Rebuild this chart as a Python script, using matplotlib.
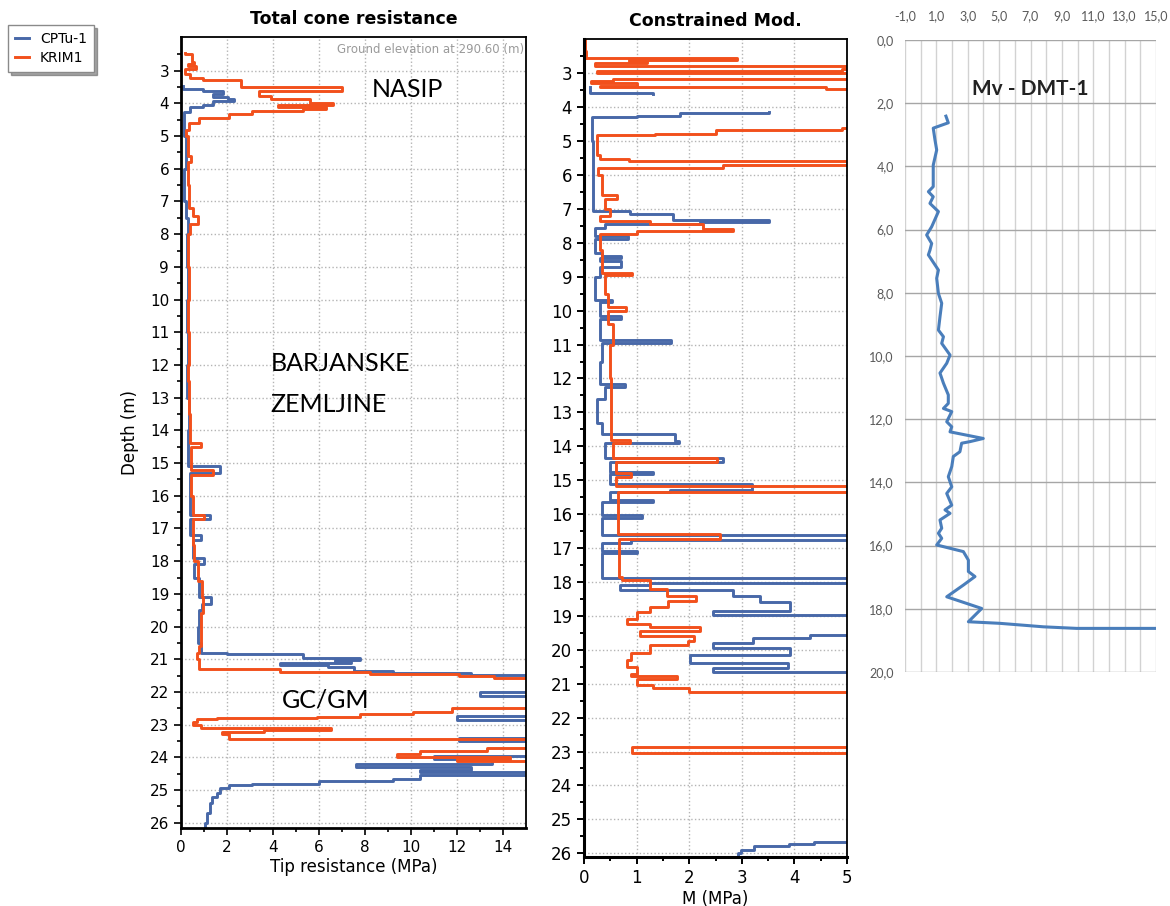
import numpy as np
import matplotlib
matplotlib.use("Agg")
from matplotlib import pyplot as plt

# colours
c_blue = '#4868a8'
c_red = '#f2501c'
c_dmt = '#4a7ebb'

# ---- Total cone resistance (value holds from depth[i] to depth[i+1]) ----
qt_krim_depth = [2.46, 2.50, 2.72, 2.80, 2.86, 2.95, 3.10, 3.22, 3.30, 3.50, 3.62, 3.78, 3.88, 3.98,
                 4.06, 4.12, 4.18, 4.24, 4.32, 4.45, 4.60, 4.80, 5.0, 5.6, 5.8, 6.5, 7.2, 7.45, 7.7,
                 8.0, 9.0, 10.0, 11.0, 12.0, 12.5, 13.5, 14.4, 14.5, 15.2, 15.35, 16.0, 16.6, 16.7,
                 17.5, 18.0, 18.6, 19.1, 19.6, 20.6, 20.8, 21.0, 21.3, 21.38, 21.44, 21.5, 21.56,
                 22.5, 22.6, 22.68, 22.76, 22.8, 22.84, 22.92, 23.02, 23.1, 23.16, 23.22, 23.3,
                 23.45, 23.7, 23.8, 23.9, 23.98, 24.05, 24.1, 26.2]
qt_krim_val = [0.17, 0.46, 0.57, 0.32, 0.65, 0.17, 0.39, 0.97, 2.6, 7.0, 3.4, 3.9, 5.6, 6.6,
               4.2, 6.3, 5.3, 3.1, 2.1, 0.8, 0.35, 0.2, 0.3, 0.45, 0.3, 0.35, 0.5, 0.75, 0.4,
               0.3, 0.35, 0.3, 0.35, 0.3, 0.35, 0.4, 0.85, 0.45, 1.4, 0.45, 0.5, 1.0, 0.5,
               0.55, 0.75, 0.9, 0.95, 0.85, 0.8, 0.7, 0.8, 4.3, 8.2, 12.1, 13.6, 16.0,
               11.8, 10.1, 7.8, 5.9, 1.55, 0.7, 0.5, 0.85, 6.5, 3.6, 1.8, 2.1,
               16.0, 13.3, 10.4, 9.4, 14.3, 12.0, 16.0, 16.0]

qt_cptu_depth = [3.47, 3.55, 3.62, 3.70, 3.80, 3.86, 3.94, 4.04, 4.10, 4.25, 5.0, 6.0, 7.0, 7.5,
                 8.0, 9.0, 10.0, 11.0, 12.0, 13.0, 14.0, 15.1, 15.3, 16.6, 16.7, 17.2, 17.35,
                 17.9, 18.1, 18.5, 19.1, 19.3, 19.5, 20.0, 20.5, 20.8, 20.85, 20.95, 21.03, 21.08,
                 21.12, 21.16, 21.25, 21.35, 21.42, 21.48, 22.0, 22.12, 22.75, 22.85, 23.4, 23.5,
                 23.95, 24.05, 24.2, 24.3, 24.4, 24.45, 24.55, 24.65, 24.72, 24.8, 24.86, 24.95,
                 25.1, 25.2, 25.4, 25.7, 26.0, 26.2]
qt_cptu_val = [0.1, 0.97, 1.84, 1.41, 2.06, 2.3, 1.41, 0.97, 0.39, 0.15, 0.2, 0.15, 0.2, 0.3,
               0.25, 0.3, 0.25, 0.3, 0.25, 0.35, 0.3, 1.7, 0.4, 1.26, 0.4, 0.85, 0.5,
               1.0, 0.55, 0.8, 1.3, 0.9, 0.8, 0.75, 0.85, 2.0, 5.3, 7.8, 6.7, 7.4,
               4.3, 6.4, 7.5, 9.2, 12.6, 16.0, 13.0, 16.0, 12.0, 16.0, 12.1, 16.0,
               11.0, 13.5, 7.6, 12.6, 10.4, 16.0, 10.4, 9.2, 6.0, 3.1, 2.1, 1.7,
               1.55, 1.35, 1.25, 1.15, 1.05, 1.05]

# ---- Constrained modulus ----
m_krim_depth = [2.0, 2.34, 2.5, 2.55, 2.6, 2.64, 2.69, 2.78, 2.88, 2.92, 3.0, 3.18, 3.24, 3.3,
                3.38, 3.42, 3.46, 4.62, 4.66, 4.78, 4.82, 5.4, 5.54, 5.6, 5.72, 5.8, 6.0, 6.6,
                6.7, 7.0, 7.2, 7.35, 7.45, 7.58, 7.66, 7.75, 8.2, 8.9, 8.95, 9.5, 9.9, 10.0,
                10.4, 11.0, 12.0, 13.8, 13.9, 14.35, 14.45, 14.8, 14.9, 15.18, 15.35, 16.6,
                16.72, 17.85, 17.95, 18.2, 18.4, 18.55, 18.75, 18.88, 19.08, 19.25, 19.33,
                19.45, 19.6, 19.75, 19.85, 20.1, 20.3, 20.5, 20.7, 20.76, 20.85, 21.05, 21.13,
                21.25, 22.88, 23.05, 26.2]
m_krim_val = [0.02, 0.04, 0.0, 2.9, 0.86, 1.2, 0.21, 5.5, 4.9, 0.25, 5.5, 0.55, 0.13, 1.0,
              0.3, 4.6, 5.5, 4.9, 2.5, 1.35, 0.24, 0.3, 0.85, 5.5, 2.65, 0.26, 0.35, 0.62,
              0.4, 0.5, 0.3, 1.26, 2.27, 2.84, 1.0, 0.3, 0.35, 0.91, 0.4, 0.45, 0.79, 0.45,
              0.55, 0.5, 0.52, 0.88, 0.55, 2.53, 0.6, 0.9, 0.6, 5.5, 0.65, 2.59,
              0.66, 0.72, 1.26, 1.57, 2.12, 1.59, 1.26, 1.0, 0.81, 1.26, 2.21,
              1.07, 2.1, 1.97, 1.26, 0.9, 0.81, 1.0, 0.9, 1.76, 1.0, 1.31, 2.0,
              5.5, 0.92, 5.5, 5.5]

m_cptu_depth = [3.42, 3.58, 3.62, 4.14, 4.17, 4.26, 4.28, 5.0, 7.07, 7.15, 7.33, 7.38, 7.45,
                7.55, 7.8, 7.88, 8.3, 8.4, 8.45, 8.55, 8.7, 9.0, 9.7, 9.75, 10.15, 10.25,
                10.88, 10.95, 11.5, 12.15, 12.25, 12.6, 13.3, 13.65, 13.85, 13.9, 14.35, 14.45,
                14.75, 14.82, 15.12, 15.28, 15.35, 15.58, 15.65, 16.02, 16.1, 16.62, 16.75,
                16.85, 17.08, 17.15, 17.88, 18.02, 18.1, 18.25, 18.4, 18.6, 18.85, 18.98,
                19.55, 19.65, 19.8, 19.95, 20.15, 20.4, 20.55, 20.65, 25.66, 25.72, 25.8,
                25.9, 26.0, 26.2]
m_cptu_val = [0.11, 1.32, np.nan, 3.51, 1.83, 1.0, 0.15, 0.18, 0.87, 1.70, 3.51, 2.2, 0.4,
              0.2, 0.84, 0.2, 0.35, 0.71, 0.3, 0.7, 0.3, 0.2, 0.53, 0.3, 0.71, 0.3,
              1.66, 0.35, 0.3, 0.77, 0.4, 0.25, 0.34, 1.73, 1.8, 0.4, 2.65, 0.5,
              1.32, 0.5, 3.19, 1.64, 0.5, 1.32, 0.34, 1.1, 0.34, 5.5, 0.89,
              0.34, 1.0, 0.35, 5.5, 1.26, 0.68, 2.84, 3.35, 3.92, 2.46, 5.5,
              4.3, 3.22, 2.46, 3.92, 2.02, 3.88, 2.46, 5.5, 4.37, 3.9, 3.23,
              2.98, 2.93, 2.93]

# ---- Mv - DMT-1 ----
mv_depth = [2.41, 2.62, 2.79, 3.16, 3.48, 3.96, 4.64, 4.80, 4.96, 5.17, 5.43, 5.91, 6.17, 6.44,
            6.65, 6.80, 7.28, 7.54, 8.02, 8.33, 8.76, 9.18, 9.39, 9.60, 9.97, 10.23, 10.54,
            10.86, 11.23, 11.50, 11.66, 11.76, 12.08, 12.24, 12.40, 12.61, 12.71, 12.76, 13.03,
            13.18, 13.50, 13.82, 14.14, 14.35, 14.72, 14.87, 14.98, 15.19, 15.45, 15.61, 15.77,
            15.98, 16.19, 16.46, 16.82, 16.98, 17.25, 17.62, 17.83, 17.99, 18.41, 18.46, 18.57,
            18.62, 18.62]
mv_val = [1.61, 1.76, 0.80, 0.91, 1.02, 0.80, 0.80, 0.49, 0.80, 0.59, 1.13, 0.70, 0.38, 0.70,
          0.59, 0.49, 1.13, 1.02, 1.13, 1.34, 1.23, 1.13, 1.45, 1.34, 1.87, 1.66, 1.23,
          1.45, 1.76, 1.76, 1.45, 1.98, 1.66, 1.98, 1.87, 3.99, 3.14, 2.61, 2.50,
          2.08, 1.98, 1.76, 1.98, 1.66, 1.98, 1.55, 1.87, 1.23, 1.34, 1.13, 1.34,
          1.02, 2.72, 3.04, 3.04, 3.46, 2.72, 1.66, 2.93, 3.89, 3.04, 5.05, 7.82,
          9.94, 15.0]
mv_xticks = np.arange(-1, 16, 2)
mv_yticks = np.arange(0, 21, 2)

W, H = 1170.0, 906.0
fig = plt.figure(figsize=(11.7, 9.06), dpi=100)
grid_kw = dict(color='#b4b4b4', linestyle=':', linewidth=1.0)

# ---------------- panel 1 ----------------
ax1 = fig.add_axes([181/W, 1-828/H, 345/W, 791/H])
ax1.plot(qt_cptu_val, qt_cptu_depth, color=c_blue, lw=2.1, drawstyle='steps-pre', label='CPTu-1')
ax1.plot(qt_krim_val, qt_krim_depth, color=c_red, lw=2.1, drawstyle='steps-pre', label='KRIM1')
ax1.set_xlim(0, 15)
ax1.set_ylim(26.16, 1.97)
ax1.set_xticks(np.arange(0, 15, 2))
ax1.set_xticks(np.arange(1, 15, 2), minor=True)
ax1.set_yticks(np.arange(3, 27))
ax1.set_yticks(np.arange(2.5, 26.5, 1.0), minor=True)
ax1.grid(True, which='major', **grid_kw)
ax1.tick_params(which='major', direction='out', length=5, width=1.2, labelsize=11)
ax1.tick_params(which='minor', direction='out', length=3, width=1.2)
ax1.set_xlabel('Tip resistance (MPa)', fontsize=12, labelpad=2)
ax1.set_ylabel('Depth (m)', fontsize=12, labelpad=8)
ax1.set_title('Total cone resistance', fontsize=12.5, fontweight='bold', pad=9)
for s in ['left', 'bottom']:
    ax1.spines[s].set_linewidth(2.0)
for s in ['top', 'right']:
    ax1.spines[s].set_linewidth(1.3)
ax1.text(0.995, 0.993, 'Ground elevation at 290.60 (m)', transform=ax1.transAxes,
         ha='right', va='top', fontsize=8.5, color='#9a9a9a')

txt_kw = dict(fontsize=18, family=['Lato', 'DejaVu Sans'], va='center', ha='left')
ax1.text(8.3, 3.59, 'NASIP', **txt_kw)
ax1.text(3.9, 11.94, 'BARJANSKE', **txt_kw)
ax1.text(3.9, 13.22, 'ZEMLJINE', **txt_kw)
ax1.text(4.4, 22.24, 'GC/GM', **txt_kw)

# ---------------- panel 2 ----------------
ax2 = fig.add_axes([584/W, 1-857/H, 263/W, 818/H])
ax2.plot(m_cptu_val, m_cptu_depth, color=c_blue, lw=2.1, drawstyle='steps-pre')
ax2.plot(m_krim_val, m_krim_depth, color=c_red, lw=2.1, drawstyle='steps-pre')
ax2.set_xlim(0, 5)
ax2.set_ylim(26.11, 1.99)
ax2.set_xticks(np.arange(0, 6))
ax2.set_xticks(np.arange(0.5, 5, 1.0), minor=True)
ax2.set_yticks(np.arange(3, 27))
ax2.set_yticks(np.arange(2.5, 26.5, 1.0), minor=True)
ax2.grid(True, which='major', **grid_kw)
ax2.tick_params(which='major', direction='out', length=5, width=1.4, labelsize=12)
ax2.tick_params(which='minor', direction='out', length=3, width=1.4)
ax2.set_xlabel('M (MPa)', fontsize=12, labelpad=2)
ax2.set_title('Constrained Mod.', fontsize=12.5, fontweight='bold', pad=9)
for s in ['left', 'bottom']:
    ax2.spines[s].set_linewidth(2.2)
for s in ['top', 'right']:
    ax2.spines[s].set_linewidth(1.3)

# ---------------- panel 3 ----------------
lato = ['Lato', 'DejaVu Sans']
ax3 = fig.add_axes([905/W, 1-672/H, 251/W, 632/H])
ax3.plot(mv_val, mv_depth, color=c_dmt, lw=2.2)
ax3.set_xlim(-1, 15)
ax3.set_ylim(20, 0)
ax3.set_xticks(mv_xticks)
ax3.set_xticks(np.arange(0, 15, 2), minor=True)
ax3.set_yticks(mv_yticks)
ax3.set_xticklabels([('%.1f' % v).replace('.', ',') for v in mv_xticks], family=lato)
ax3.set_yticklabels([('%.1f' % v).replace('.', ',') for v in mv_yticks], family=lato)
ax3.xaxis.tick_top()
ax3.tick_params(which='both', length=0, labelsize=9, colors='#595959')
ax3.tick_params(axis='x', pad=13)
ax3.tick_params(axis='y', pad=8)
ax3.grid(True, axis='x', which='both', color='#d2d2d2', lw=1.0)
ax3.grid(True, axis='y', which='major', color='#a6a6a6', lw=1.0)
for s in ax3.spines.values():
    s.set_visible(False)
ax3.text(0.5, 0.922, 'Mv - DMT-1', transform=ax3.transAxes, ha='center', va='center',
         fontsize=15, fontweight='bold', family=lato, color='#222222', zorder=5)

# ---------------- legend ----------------
h, l = ax1.get_legend_handles_labels()
fig.legend(h, l, loc='upper left', bbox_to_anchor=(8/W, 1-25/H), borderaxespad=0,
           fontsize=10, handlelength=1.0, handletextpad=0.8, fancybox=False, shadow=True,
           edgecolor='#8a8a8a', framealpha=1, borderpad=0.5, labelspacing=0.35)

fig.savefig('out.png', dpi=100)
